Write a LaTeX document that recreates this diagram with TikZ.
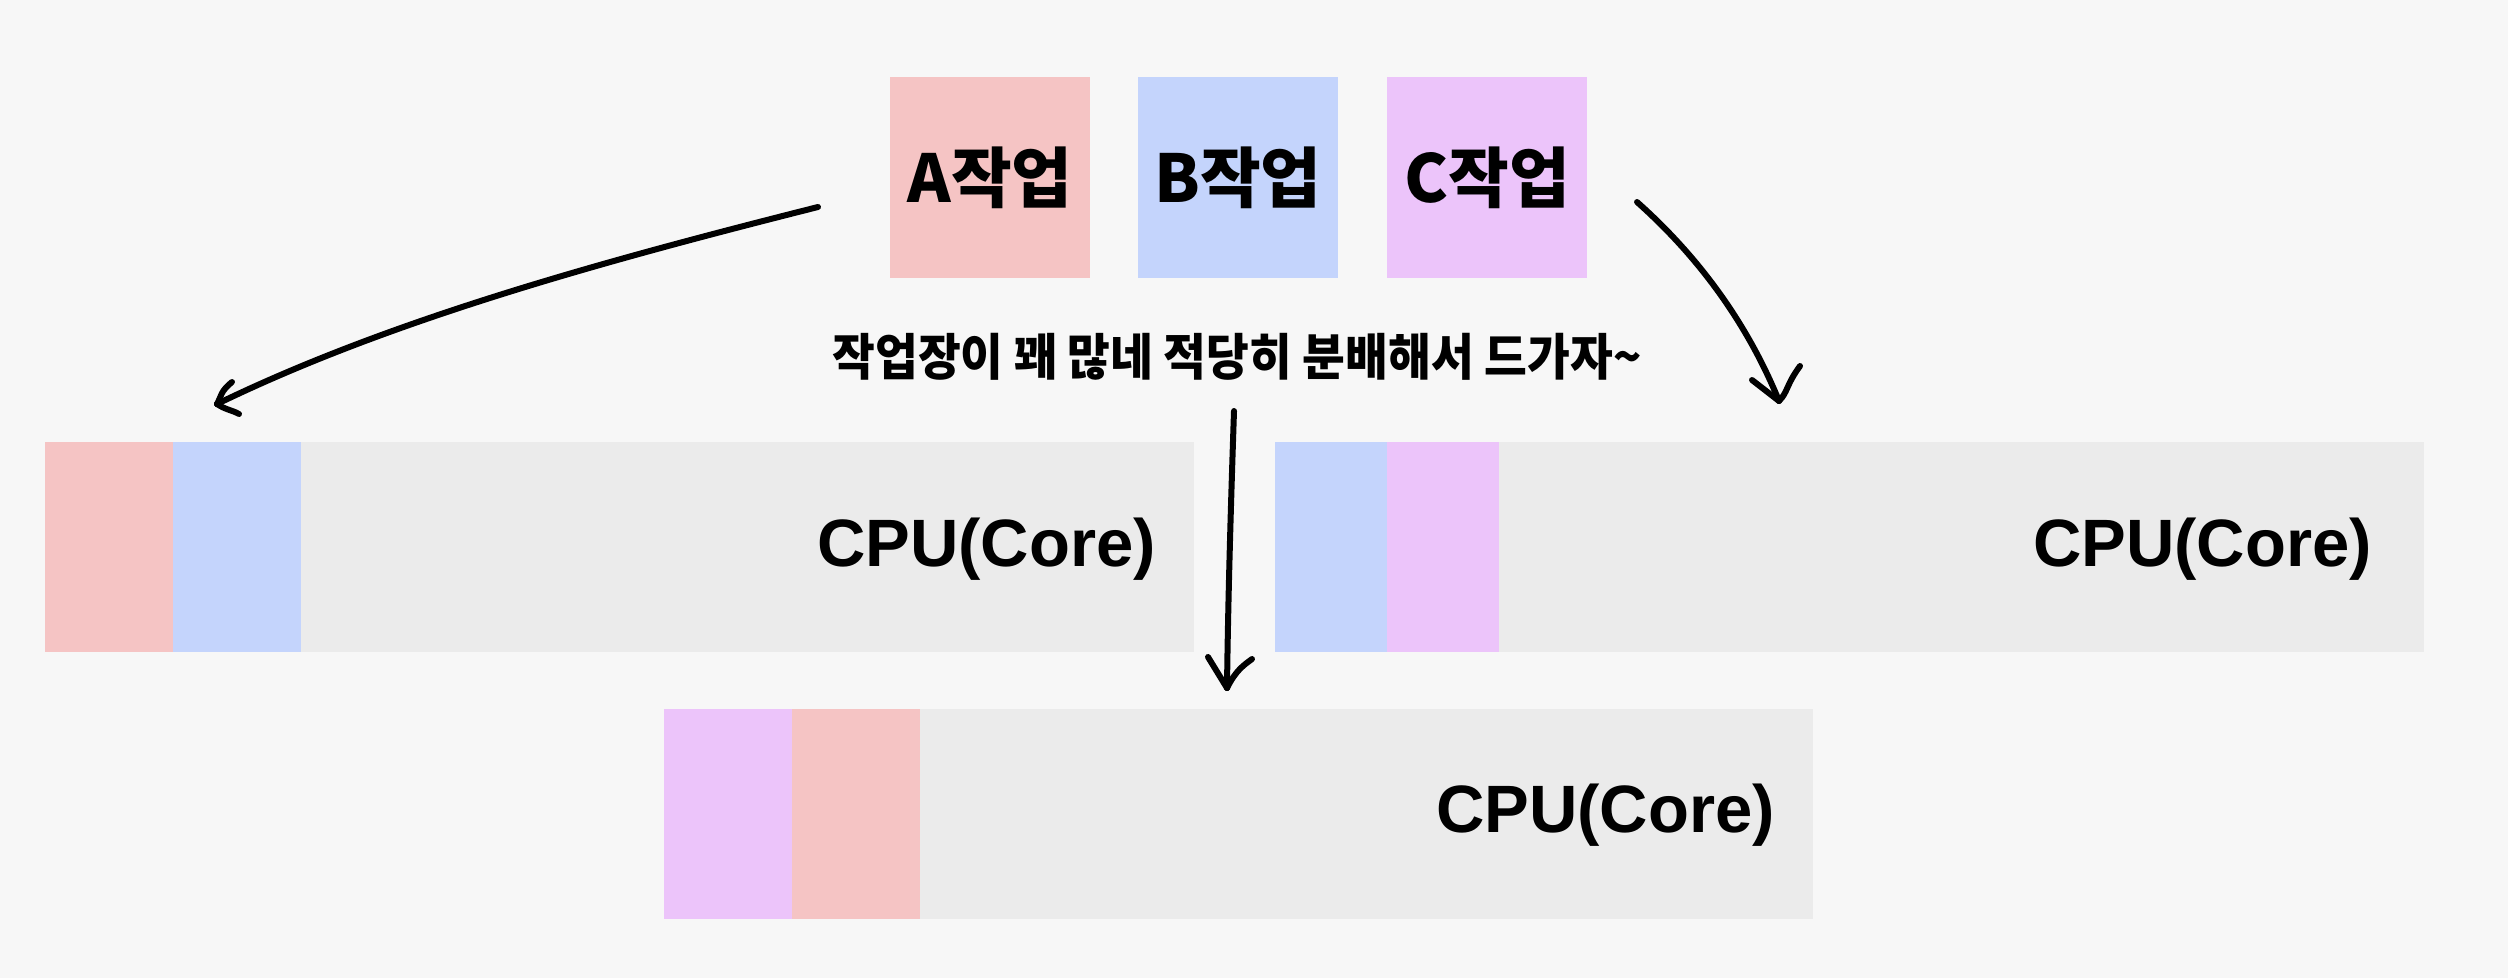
\documentclass[tikz,border=0pt]{standalone}
\usepackage{fontspec}
\setmainfont{Liberation Sans}
\newfontfamily\krfont{Noto Sans CJK KR}
\usetikzlibrary{calc}
\definecolor{bgc}{HTML}{F7F7F7}
\definecolor{pinkc}{HTML}{F5C4C4}
\definecolor{bluec}{HTML}{C4D4FC}
\definecolor{purplec}{HTML}{ECC4FA}
\definecolor{grayc}{HTML}{EBEBEB}
\tikzset{
  box/.style={draw=none, inner sep=0pt, outer sep=0pt, anchor=north west},
  taskbox/.style={box, minimum width=200pt, minimum height=201pt,
    font=\krfont\bfseries\fontsize{66}{66}\selectfont},
  cpubar/.style={box, fill=grayc, minimum width=1149pt, minimum height=210pt},
  seg/.style={box, minimum height=210pt},
  cpulabel/.style={inner sep=0pt, anchor=east, font=\bfseries\fontsize{67}{67}\selectfont},
  hand/.style={line width=6pt, line cap=round, line join=round, black},
}
\begin{document}
\begin{tikzpicture}[x=1pt,y=-1pt]
\fill[bgc] (0,0) rectangle (2508,978);
\useasboundingbox (0,0) rectangle (2508,978);

% task boxes
\node[taskbox, fill=pinkc] (A) at (890,77) {A작업};
\node[taskbox, fill=bluec] (B) at (1138,77) {B작업};
\node[taskbox, fill=purplec] (C) at (1387,77) {C작업};

% caption
\node[inner sep=0pt, font=\krfont\bfseries\fontsize{50}{50}\selectfont] (cap) at (1237,357)
  {\scalebox{0.93}[1]{작업장이 꽤 많네 적당히 분배해서 드가자\textasciitilde}};

% CPU 1 (left)
\node[cpubar] (cpu1) at (45,442) {};
\node[seg, fill=pinkc, minimum width=128pt] (cpu1a) at (45,442) {};
\node[seg, fill=bluec, minimum width=128pt] (cpu1b) at (173,442) {};
\node[cpulabel] (cpu1t) at (1156,549) {CPU(Core)};

% CPU 2 (right)
\node[cpubar, minimum width=1149pt] (cpu2) at (1275,442) {};
\node[seg, fill=bluec, minimum width=112pt] (cpu2a) at (1275,442) {};
\node[seg, fill=purplec, minimum width=112pt] (cpu2b) at (1387,442) {};
\node[cpulabel] (cpu2t) at (2372,549) {CPU(Core)};

% CPU 3 (bottom)
\node[cpubar] (cpu3) at (664,709) {};
\node[seg, fill=purplec, minimum width=128pt] (cpu3a) at (664,709) {};
\node[seg, fill=pinkc, minimum width=128pt] (cpu3b) at (792,709) {};
\node[cpulabel] (cpu3t) at (1775,815) {CPU(Core)};

% arrow endpoints
\coordinate (a1s) at (818,207);
\coordinate (a1e) at (217,404);
\coordinate (a2s) at (1234,411);
\coordinate (a2e) at (1227,688);
\coordinate (a3s) at (1637,202);
\coordinate (a3e) at (1779,401);

% hand-drawn arrows
\draw[hand] (a1s) .. controls (600,262) and (390,320) .. (a1e);
\draw[hand] (a1e) .. controls (222,395) and (220,392) .. (232,382);
\draw[hand] (a1e) .. controls (226,410) and (232,410) .. (239,414);

\draw[hand] (a2s) .. controls (1231,500) and (1228,600) .. (a2e);
\draw[hand] (a2e) -- (1208,657);
\draw[hand] (a2e) .. controls (1236,670) and (1244,665) .. (1252,659);

\draw[hand] (a3s) .. controls (1700,258) and (1748,325) .. (a3e);
\draw[hand] (a3e) -- (1752,380);
\draw[hand] (a3e) .. controls (1788,392) and (1786,385) .. (1800,366);
\end{tikzpicture}
\end{document}
